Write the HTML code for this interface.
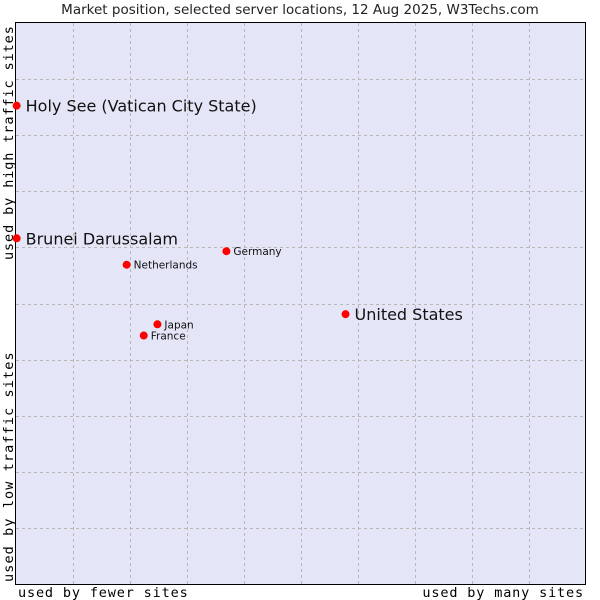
<!DOCTYPE html>
<html><head><meta charset="utf-8"><style>body{margin:0;background:#fff}svg{display:block}</style></head>
<body>
<svg width="600" height="600" xmlns="http://www.w3.org/2000/svg" font-family="'DejaVu Sans', sans-serif">
<text x="300" y="14" font-size="13.5" text-anchor="middle" fill="#222">Market position, selected server locations, 12 Aug 2025, W3Techs.com</text>
<rect x="15.5" y="22.5" width="570" height="562" fill="#e4e6f8" stroke="#000"/>
<g id="grid"></g>
<text x="18" y="597" font-family="'DejaVu Sans Mono', monospace" font-size="13.5" letter-spacing="0.85">used by fewer sites</text>
<text x="584" y="597" text-anchor="end" font-family="'DejaVu Sans Mono', monospace" font-size="13.5" letter-spacing="0.85">used by many sites</text>
<text transform="translate(13,582) rotate(-90)" font-family="'DejaVu Sans Mono', monospace" font-size="13.5" letter-spacing="1.1">used by low traffic sites</text>
<text transform="translate(13,260) rotate(-90)" font-family="'DejaVu Sans Mono', monospace" font-size="13.5" letter-spacing="0.9">used by high traffic sites</text>
<g id="points"></g>
</svg>
<script>
const countries = ["Holy See (Vatican City State)","Brunei Darussalam","Germany","Netherlands","Japan","France","United States"];
const xValues = [0.2,0.2,37.0,19.5,24.9,22.5,57.9];
const yValues = [85.2,61.6,59.3,56.9,46.3,44.3,48.1];
const bigLabel = [true,true,false,false,false,false,true];
const NS="http://www.w3.org/2000/svg";
const X0=15.5,W=570,Y0=584.5,H=562;
const sx=v=>X0+v/100*W, sy=v=>Y0-v/100*H;
const grid=document.getElementById('grid');
for(let i=1;i<10;i++){
  const v=document.createElementNS(NS,'line');
  
  
  const gx=Math.round(sx(i*10))+0.5;
  v.setAttribute('x1',gx);v.setAttribute('x2',gx);v.setAttribute('y1',23);v.setAttribute('y2',584);
  v.setAttribute('stroke','#b8b8b8');v.setAttribute('stroke-dasharray','3,3');grid.appendChild(v);
  const h=document.createElementNS(NS,'line');
  
  
  const gy=Math.round(sy(i*10))+0.5;
  h.setAttribute('x1',16);h.setAttribute('x2',585);h.setAttribute('y1',gy);h.setAttribute('y2',gy);
  h.setAttribute('stroke','#b8b8b8');h.setAttribute('stroke-dasharray','3,3');grid.appendChild(h);
}
const pts=document.getElementById('points');
countries.forEach((c,i)=>{
  const x=sx(xValues[i]),y=sy(yValues[i]);
  const d=document.createElementNS(NS,'circle');
  
  
  d.setAttribute('cx',x);d.setAttribute('cy',y);d.setAttribute('r',4);d.setAttribute('fill','#ff0000');
  pts.appendChild(d);
  const t=document.createElementNS(NS,'text');
  
  
  t.setAttribute('x',x+(bigLabel[i]?9:7));
  t.setAttribute('y',y+(bigLabel[i]?6:4));
  t.setAttribute('font-size',bigLabel[i]?16:10.5);
  t.setAttribute('fill','#111');
  t.textContent=c;pts.appendChild(t);
});
</script>
</body></html>
